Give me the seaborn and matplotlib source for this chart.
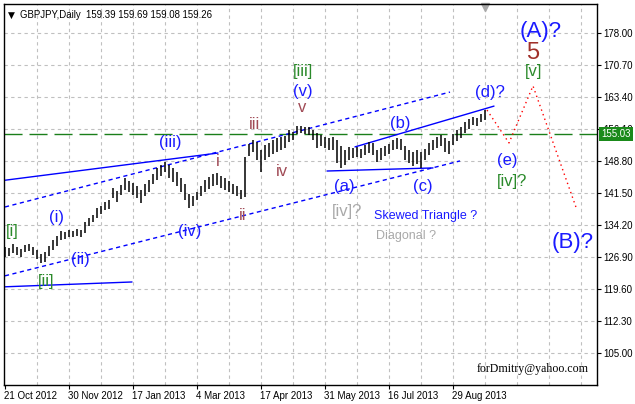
import numpy as np
import pandas as pd
import matplotlib
matplotlib.use("Agg")
import matplotlib.pyplot as plt
import matplotlib.transforms as mtransforms
import seaborn as sns

sns.set_theme(style="white")
plt.rcParams['font.family'] = ['Liberation Sans', 'DejaVu Sans']

# ================== data ==================
# daily bars, one every second day slot (slot 0 = 21 Oct 2012)
bar_high = [129.3, 129.0, 130.0, 129.3, 128.8, 129.7, 130.0, 129.3, 128.6, 127.7,
            128.1, 129.5, 130.9, 131.8, 132.9, 132.7, 133.2, 132.9, 133.4, 133.2,
            135.0, 135.9, 136.6, 138.2, 138.6, 139.5, 140.0, 142.7, 142.0, 143.4,
            145.0, 144.3, 143.9, 143.2, 142.3, 143.6, 144.5, 145.9, 147.3, 148.0,
            148.7, 148.0, 147.3, 146.4, 145.0, 143.6, 141.4, 140.9, 141.8, 143.2,
            144.5, 145.2, 145.9, 146.2, 145.5, 145.0, 144.3, 143.6, 143.2, 142.3,
            149.8, 152.8, 153.7, 153.2, 151.4, 152.5, 153.0, 153.7, 154.1, 154.4,
            154.6, 155.9, 155.5, 156.9, 156.9, 156.6, 156.6, 155.9, 155.3, 154.8,
            154.4, 154.1, 154.4, 153.7, 152.3, 151.4, 152.1, 151.8, 152.1, 151.6,
            152.5, 153.2, 153.0, 151.4, 151.8, 152.3, 152.8, 153.7, 154.1, 153.9,
            152.3, 151.4, 150.9, 151.4, 150.9, 151.6, 153.0, 153.7, 154.4, 154.8,
            154.1, 153.4, 155.0, 155.9, 156.6, 157.8, 158.5, 158.9, 158.7, 159.6,
            160.5]
bar_low = [127.0, 127.2, 127.9, 127.5, 127.0, 128.1, 128.4, 127.5, 126.5, 125.6,
           125.9, 127.2, 128.6, 129.5, 130.9, 131.1, 131.6, 131.6, 131.8, 131.6,
           132.5, 134.1, 135.0, 135.9, 136.8, 137.7, 137.9, 140.4, 139.5, 141.1,
           142.3, 141.8, 141.1, 140.4, 139.3, 140.9, 141.8, 143.6, 144.5, 145.5,
           146.4, 145.0, 144.1, 143.2, 141.8, 140.0, 138.2, 138.6, 140.0, 140.9,
           141.8, 142.5, 143.2, 143.4, 142.7, 142.3, 141.8, 141.4, 140.9, 140.2,
           140.7, 150.0, 150.9, 149.1, 146.4, 149.1, 149.8, 150.5, 150.9, 151.4,
           151.8, 153.2, 153.7, 155.0, 155.3, 155.0, 154.8, 153.7, 151.8, 152.3,
           151.8, 151.4, 151.4, 148.4, 147.3, 148.0, 149.1, 149.6, 149.8, 149.6,
           150.2, 150.7, 150.2, 148.7, 149.1, 150.0, 150.5, 151.4, 151.6, 151.4,
           149.1, 148.4, 147.7, 148.2, 147.3, 149.1, 150.2, 151.4, 151.8, 152.3,
           150.9, 150.5, 152.5, 153.4, 154.1, 155.3, 156.2, 157.1, 156.9, 157.8,
           158.2]
bar_slot = np.arange(0, 2 * len(bar_high), 2)

price_ticks = [105.00, 112.30, 119.60, 126.90, 134.20, 141.50, 148.80, 156.10, 163.40, 170.70, 178.00]
date_labels = ['21 Oct 2012', '30 Nov 2012', '17 Jan 2013', '4 Mar 2013',
               '17 Apr 2013', '31 May 2013', '16 Jul 2013', '29 Aug 2013']
date_slots = [0, 32, 64, 96, 128, 160, 192, 224]
last_price = 155.03
header = "GBPJPY,Daily  159.39 159.69 159.08 159.26"

# trend lines: (slot, price) pairs
line_top_solid = ([0.25, 106.75], [144.5, 150.7])
line_chan_upper = ([0.25, 222.75], [138.4, 164.6])
line_chan_lower = ([0.25, 227.75], [122.7, 148.9])
line_low_short = ([0.25, 63.75], [120.2, 121.3])
line_tri_upper = ([175.25, 244.75], [152.1, 161.4])
line_tri_lower = ([161.25, 214.25], [146.6, 147.3])
fc_slot = [241.25, 252.25, 264.25, 286.25]
fc_price = [160.5, 153.0, 166.0, 137.7]

BLUE = '#1a1aff'
GREEN = '#2b8a2b'
BROWN = '#a04a55'
GRAY = '#a9a9a9'

# wave labels: text, slot, price, colour, size
labels = [
    ("[iii]", 149.25, 169.3, GREEN, 12), ("(v)", 149.25, 164.8, BLUE, 12),
    ("v", 148.75, 161.0, BROWN, 12), ("iii", 125.25, 157.1, BROWN, 12),
    ("(iii)", 82.75, 153.0, BLUE, 12), ("i", 106.75, 148.7, BROWN, 12),
    ("iv", 138.75, 146.4, BROWN, 12), ("ii", 119.25, 136.4, BROWN, 12),
    ("(iv)", 92.75, 132.7, BLUE, 12), ("(i)", 26.25, 136.1, BLUE, 12),
    ("(ii)", 37.75, 126.5, BLUE, 12), ("[i]", 3.75, 132.9, GREEN, 12),
    ("[ii]", 20.75, 121.3, GREEN, 12), ("(a)", 169.75, 143.0, BLUE, 12),
    ("(b)", 197.75, 157.5, BLUE, 12), ("(c)", 209.25, 143.0, BLUE, 12),
    ("(d)?", 242.75, 164.4, BLUE, 12), ("(e)", 251.25, 149.1, BLUE, 12),
    ("[iv]?", 253.75, 144.1, GREEN, 12), ("[iv]?", 171.25, 137.3, GRAY, 12),
    ("(A)?", 268.0, 178.3, BLUE, 16), ("5", 264.0, 173.5, '#a0302a', 17),
    ("[v]", 264.5, 169.2, GREEN, 12), ("(B)?", 284.0, 130.4, BLUE, 16),
]

# ================== plot ==================
fig = plt.figure(figsize=(6.35, 4.04), dpi=100)
ax = fig.add_axes([4 / 635, 19 / 404, 593 / 635, 381 / 404])
ax.set_xlim(-0.25, 296.25)
ax.set_ylim(97.81, 184.68)

# grid, MT4 style
for p in price_ticks:
    ax.axhline(p, color='#c0c0c0', lw=0.8, ls=(0, (3, 3)), zorder=0)
for s in range(16, 296, 16):
    ax.axvline(s, color='#c0c0c0', lw=0.8, ls=(0, (3, 3)), zorder=0)

# current price line
ax.axhline(last_price, color='#1a7f1a', lw=1.0, ls=(0, (13, 5)), zorder=1)

# bars
ax.vlines(bar_slot, bar_low, bar_high, color='black', lw=1.1, zorder=3)

# trend lines
for xs, ys, style in [(line_top_solid[0], line_top_solid[1], '-'),
                      (line_chan_upper[0], line_chan_upper[1], (0, (3, 2.5))),
                      (line_chan_lower[0], line_chan_lower[1], (0, (3, 2.5))),
                      (line_low_short[0], line_low_short[1], '-'),
                      (line_tri_upper[0], line_tri_upper[1], '-'),
                      (line_tri_lower[0], line_tri_lower[1], '-')]:
    df = pd.DataFrame({'slot': xs, 'price': ys})
    sns.lineplot(data=df, x='slot', y='price', ax=ax, color='#0000ff', lw=1.0,
                 linestyle=style, sort=False, zorder=2)

fc = pd.DataFrame({'slot': fc_slot, 'price': fc_price})
sns.lineplot(data=fc, x='slot', y='price', ax=ax, color='#ff0000', lw=1.0,
             linestyle=(0, (1, 2.5)), sort=False, zorder=2)

for txt, s, p, col, size in labels:
    ax.text(s, p, txt, color=col, fontsize=size, ha='center', va='center', zorder=4)

ax.text(184.75, 136.4, "Skewed Triangle ?", color=BLUE, fontsize=9, ha='left', va='center')
ax.text(185.75, 131.8, "Diagonal ?", color=GRAY, fontsize=9, ha='left', va='center')
ax.text(236.25, 101.5, "forDmitry@yahoo.com", color='black', fontsize=8.6, ha='left',
        va='center', family=['Liberation Serif'])

# header + shift marker
ax.text(0.006, 0.982, "\u25BC", transform=ax.transAxes, fontsize=6.5,
        ha='left', va='top', color='black', family=['DejaVu Sans'])
ax.text(0.027, 0.985, header, transform=ax.transAxes, fontsize=6.9,
        ha='left', va='top', color='black')
ax.plot([240.25], [184.0], marker='v', color='#a8a8a8', ms=6, clip_on=False, ls='none')

# axes look
ax.yaxis.tick_right()
ax.set_yticks(price_ticks)
ax.set_yticklabels([f"{p:.2f}" for p in price_ticks])
ax.set_xticks(date_slots)
ax.set_xticklabels(date_labels)
plt.setp(ax.get_xticklabels(), ha='left')
ax.tick_params(axis='both', labelsize=7.0, colors='black', length=3, width=0.8,
               direction='out', pad=1.5)
ax.tick_params(axis='y', right=True, left=False)
ax.tick_params(axis='x', bottom=True)
ax.set_xlabel('')
ax.set_ylabel('')
for sp in ax.spines.values():
    sp.set_color('black')
    sp.set_linewidth(1.0)
    sp.set_visible(True)

# last price box on the axis
trans = mtransforms.blended_transform_factory(ax.transAxes, ax.transData)
ax.text(1.0075, last_price, f"{last_price:.2f}", transform=trans, fontsize=7.0,
        color='white', ha='left', va='center', clip_on=False, zorder=10,
        bbox=dict(boxstyle='square,pad=0.25', fc='#1a8a1a', ec='none'))

fig.savefig("out.png", dpi=100, facecolor='white')
